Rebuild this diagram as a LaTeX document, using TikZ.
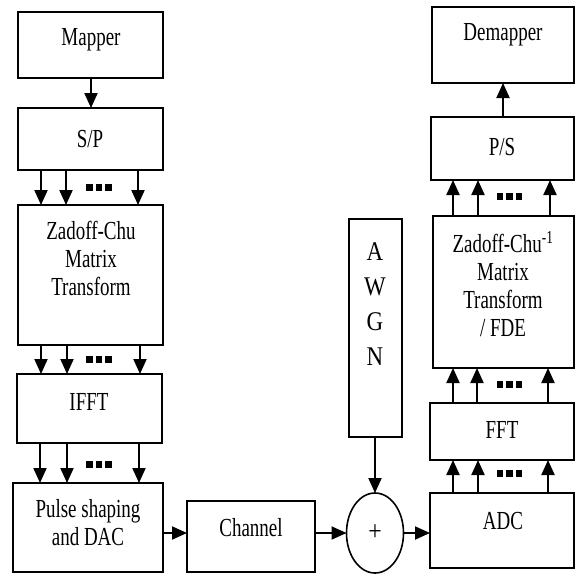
\documentclass[tikz,border=0pt]{standalone}
\usepackage{fontspec}
\setmainfont[FakeStretch=0.73]{Liberation Serif}
\newfontfamily\awgnfont[FakeStretch=0.85]{Liberation Serif}
\usetikzlibrary{arrows.meta,shapes.geometric}
\begin{document}
\begin{tikzpicture}[x=1pt,y=-1pt,
  box/.style={draw,line width=2.2pt,inner sep=0pt,outer sep=0pt},
  lbl/.style={inner sep=0pt,align=center,font=\fontsize{26}{28}\selectfont},
  arr/.style={line width=2pt,-{Triangle[length=15pt,width=13pt]}},
  sq/.style={fill=black,minimum width=6.5pt,minimum height=7pt,inner sep=0pt,draw=none}]
\useasboundingbox (0,0) rectangle (576,574);

% transmitter boxes
\node[box,minimum width=145pt,minimum height=66pt] (mapper) at (90.5,45) {};
\node[box,minimum width=145pt,minimum height=62pt] (sp) at (90.5,139) {};
\node[box,minimum width=145pt,minimum height=140pt] (zc) at (90.5,275) {};
\node[box,minimum width=145pt,minimum height=69pt] (ifft) at (89.5,408.5) {};
\node[box,minimum width=150pt,minimum height=89pt] (pulse) at (88,527.5) {};
\node[box,minimum width=128pt,minimum height=71pt] (channel) at (251,536.5) {};
\node[box,minimum width=53pt,minimum height=218pt] (awgn) at (375.5,328) {};
\node[draw,line width=1.6pt,ellipse,minimum width=57pt,minimum height=80pt,inner sep=0pt,outer sep=0pt] (plus) at (375,533) {};

% receiver boxes
\node[box,minimum width=144pt,minimum height=75pt] (adc) at (502,530.5) {};
\node[box,minimum width=144pt,minimum height=57pt] (fft) at (502,431.5) {};
\node[box,minimum width=141pt,minimum height=152pt] (zci) at (503.5,292) {};
\node[box,minimum width=143pt,minimum height=63pt] (ps) at (502.5,148.5) {};
\node[box,minimum width=142pt,minimum height=76pt] (demapper) at (503,45) {};

% labels
\node[lbl] (tmapper) at (91,40) {Mapper};
\node[lbl] (tsp) at (90,139) {S/P};
\node[lbl] (tzc) at (91,258) {Zadoff-Chu\\Matrix\\Transform};
\node[lbl] (tifft) at (89,402) {IFFT};
\node[lbl] (tpulse) at (88,523) {Pulse shaping\\and DAC};
\node[lbl] (tchannel) at (251,528) {Channel};
\node[lbl,font=\awgnfont\fontsize{27}{35}\selectfont] (tawgn) at (375,304) {A\\W\\G\\N};
\node[lbl,font=\awgnfont\fontsize{28}{30}\selectfont] (tplus) at (375,533) {+};
\node[lbl] (tadc) at (503,521) {ADC};
\node[lbl] (tfft) at (502,430) {FFT};
\node[lbl] (tzci) at (503,284) {Zadoff-Chu\textsuperscript{-1}\\Matrix\\Transform\\/ FDE};
\node[lbl] (tps) at (502,147) {P/S};
\node[lbl] (tdemapper) at (503,35) {Demapper};

% transmitter arrows
\draw[arr] (mapper.south -| 91,0) -- (sp.north -| 91,0);
\foreach \x in {41,66,138} \draw[arr] (sp.south -| \x,0) -- (zc.north -| \x,0);
\foreach \x in {41,67,140} \draw[arr] (zc.south -| \x,0) -- (ifft.north -| \x,0);
\foreach \x in {40,67,139} \draw[arr] (ifft.south -| \x,0) -- (pulse.north -| \x,0);
\draw[arr] (pulse.east |- 0,533) -- (channel.west |- 0,533);
\draw[arr] (channel.east |- 0,533) -- (plus.west);
\draw[arr] (awgn.south -| 375,0) -- (plus.north);
\draw[arr] (plus.east) -- (adc.west |- 0,533);

% receiver arrows
\foreach \x in {453,478,548} \draw[arr] (adc.north -| \x,0) -- (fft.south -| \x,0);
\foreach \x in {453,477,548} \draw[arr] (fft.north -| \x,0) -- (zci.south -| \x,0);
\foreach \x in {453,478,550} \draw[arr] (zci.north -| \x,0) -- (ps.south -| \x,0);
\draw[arr] (ps.north -| 503,0) -- (demapper.south -| 503,0);

% ellipsis squares
\foreach \y in {187.5,359.5,464} \foreach \x in {89.5,99,108.5} \node[sq] at (\x,\y) {};
\foreach \y in {196.5,384,473.5} \foreach \x in {500,509.5,519} \node[sq] at (\x,\y) {};
\end{tikzpicture}
\end{document}
